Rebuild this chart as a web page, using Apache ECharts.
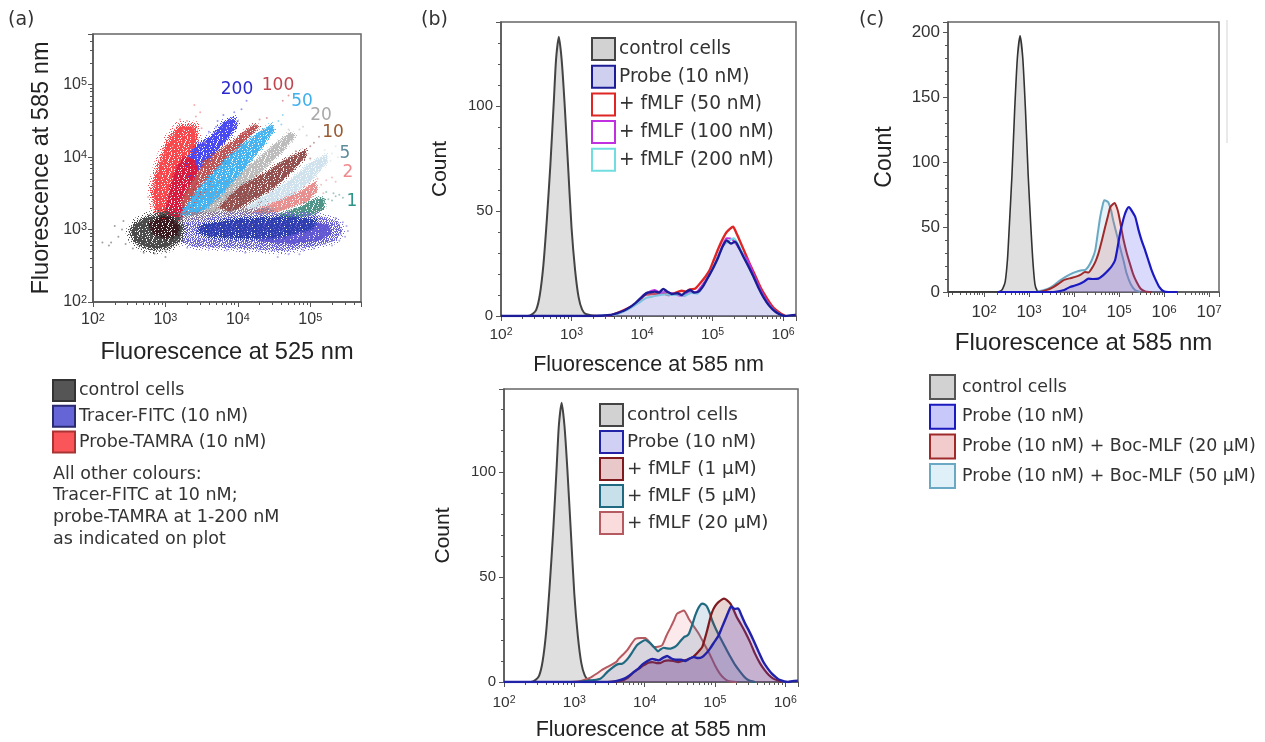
<!DOCTYPE html>
<html><head><meta charset="utf-8">
<style>html,body{margin:0;padding:0;background:#fff}#c{width:1265px;height:742px;filter:blur(.35px)}</style>
<script src="https://cdn.jsdelivr.net/npm/echarts@6/dist/echarts.min.js"></script>
</head><body><div id="c"></div>
<script>
/* ---------- panel (a): cloud outlines, [log10 F525, log10 F585] ---------- */
const cloudTracerOuter=[[3.20,3.05],[3.7,3.14],[4.4,3.17],[5.08,3.17],[5.36,3.08],[5.4,2.98],[5.33,2.88],[5.08,2.81],[4.63,2.74],[3.94,2.78],[3.38,2.8],[3.2,2.88]];
const cloudTracerMid=[[4.3,3.05],[5.0,3.12],[5.25,3.06],[5.3,2.95],[5.15,2.86],[4.75,2.8],[4.3,2.84],[4.1,2.95]];
const cloudTracerCore=[[3.5,3.06],[3.94,3.14],[4.63,3.17],[5.08,3.14],[5.02,3.02],[4.58,2.9],[4.07,2.88],[3.6,2.9],[3.45,2.97]];
const cloudMix=[[3.2,3.22],[3.7,3.23],[4.4,3.28],[4.6,3.19],[4.2,3.1],[3.6,3.08],[3.2,3.05]];
const cloudWedge=[[3.2,3.15],[3.5,3.55],[3.8,3.68],[4.2,3.5],[4.6,3.28],[4.0,3.14],[3.5,3.08]];
const cloudRedOuter=[[2.97,3.14],[2.88,3.23],[2.83,3.56],[2.92,3.9],[3.06,4.25],[3.2,4.42],[3.4,4.42],[3.42,4.2],[3.38,3.97],[3.34,3.6],[3.22,3.19]];
const cloudRedCore=[[3.0,3.14],[3.02,3.3],[3.08,3.6],[3.16,3.85],[3.26,4.0],[3.4,3.95],[3.45,3.75],[3.4,3.55],[3.3,3.25],[3.2,3.12]];
const cloud200=[[3.29,3.93],[3.43,4.14],[3.66,4.3],[3.82,4.48],[3.94,4.53],[3.98,4.44],[3.84,4.25],[3.66,4.02],[3.48,3.84],[3.34,3.69]];
const cloud100=[[3.24,3.42],[3.54,3.92],[3.94,4.22],[4.22,4.44],[4.28,4.42],[4.14,4.28],[3.94,4.04],[3.71,3.79],[3.43,3.42],[3.27,3.2]];
const cloud50=[[3.20,3.19],[3.48,3.58],[3.84,3.97],[4.21,4.27],[4.46,4.44],[4.49,4.37],[4.30,4.11],[4.03,3.79],[3.71,3.44],[3.43,3.2]];
const cloud20=[[3.48,3.23],[3.71,3.48],[4.03,3.77],[4.40,4.07],[4.72,4.33],[4.78,4.3],[4.63,4.11],[4.30,3.79],[3.98,3.44],[3.71,3.25]];
const cloud10=[[3.76,3.32],[4.03,3.58],[4.40,3.79],[4.72,3.99],[4.93,4.09],[4.93,4.02],[4.76,3.83],[4.49,3.58],[4.17,3.4],[3.89,3.23]];
const cloud5=[[4.12,3.3],[4.40,3.48],[4.72,3.67],[4.99,3.9],[5.22,4.02],[5.22,3.93],[4.99,3.67],[4.72,3.44],[4.40,3.26]];
const cloud2=[[4.17,3.23],[4.53,3.37],[4.86,3.51],[5.06,3.65],[5.09,3.55],[4.95,3.39],[4.63,3.28],[4.35,3.21]];
const cloud1=[[4.53,3.19],[4.86,3.30],[5.08,3.42],[5.18,3.42],[5.18,3.30],[5.04,3.21],[4.76,3.14]];
const cloudControlOuter=[[2.6,3.08],[2.75,3.16],[3.0,3.22],[3.15,3.16],[3.23,3.02],[3.2,2.87],[3.05,2.77],[2.85,2.74],[2.67,2.78],[2.57,2.87],[2.53,2.97]];
const cloudControlCore=[[2.78,3.08],[2.95,3.18],[3.08,3.16],[3.18,3.04],[3.16,2.94],[3.0,2.88],[2.84,2.95]];
/* sparse dots */
const dotsRed=[[2.9,3.5],[2.85,3.62],[2.92,3.75],[2.98,3.88],[3.0,4.05],[3.1,4.15],[3.12,4.3],[3.2,4.52],[3.3,4.5],[3.42,4.56],[3.48,4.62],[3.4,4.72],[3.5,4.4],[3.55,4.2],[2.76,3.45],[2.82,3.32],[3.25,4.38],[3.38,4.4],[2.95,3.95]];
const dots200=[[3.7,4.42],[3.8,4.58],[3.95,4.62],[4.05,4.66],[4.0,4.5],[3.6,4.35],[3.72,4.5],[4.12,4.78],[3.85,4.4]];
const dots100=[[4.3,4.52],[4.4,4.54],[4.1,4.34],[4.25,4.44],[4.62,4.78],[4.7,4.85],[4.35,4.38]];
const dots50=[[4.56,4.5],[4.62,4.58],[4.4,4.4],[4.45,4.32],[4.6,4.45],[4.3,4.28]];
const dots20=[[4.85,4.38],[4.9,4.42],[4.7,4.38],[4.75,4.22],[4.6,4.22],[4.45,4.12],[4.95,4.3]];
const dots10=[[5.0,4.15],[5.05,4.2],[5.12,4.28],[5.0,3.98],[4.85,4.0],[4.8,4.08]];
const dots5=[[5.3,4.05],[5.35,4.15],[5.2,4.1],[5.28,3.95],[5.1,3.98],[5.15,3.85],[5.38,4.0]];
const dots2=[[5.15,3.62],[5.22,3.68],[5.3,3.72],[5.1,3.7],[5.18,3.5],[5.0,3.58],[5.35,3.66]];
const dots1=[[5.25,3.42],[5.3,3.4],[5.35,3.46],[5.4,3.48],[5.45,3.44],[5.22,3.52],[5.32,3.5]];
const dotsTracer=[[5.45,3.1],[5.5,3.05],[5.52,2.98],[5.48,2.9],[5.4,2.85],[5.3,2.78],[5.2,2.8],[5.05,2.74],[4.9,2.72],[4.7,2.66],[4.55,2.62],[4.3,2.72],[4.1,2.68],[3.85,2.72],[3.6,2.74],[3.3,2.75],[5.35,3.16],[5.42,2.94],[4.85,2.66],[4.6,2.74]];
const dotsControl=[[2.4,3.0],[2.35,2.9],[2.42,3.12],[2.45,2.8],[2.55,2.74],[2.7,2.68],[2.85,2.67],[3.0,2.62],[2.3,3.05],[2.25,2.82],[2.13,2.82],[2.22,2.78],[3.0,2.7],[3.25,2.85],[3.2,3.12]];
const armLabels=[['200',237,90,'#2a2ad0'],['100',278,86,'#c0454f'],['50',302,102,'#3fb0ee'],['20',321,116,'#a9a9a9'],['10',333,133,'#9a5a30'],['5',345,154,'#5f8c9c'],['2',348,173,'#ee8a90'],['1',352,202,'#2f9488']];
/* ---------- histograms: [log10 fluorescence, count] ---------- */
const controlB=[[2.0,0],[2.38,0],[2.45,1],[2.5,3],[2.55,10],[2.6,24],[2.65,46],[2.7,72],[2.75,103],[2.78,122],[2.82,133],[2.86,122],[2.9,102],[2.95,72],[3.0,42],[3.05,22],[3.1,9],[3.15,3],[3.2,1],[3.35,0],[3.6,0]];
const probeTop=[[2.0,0],[3.3,0],[3.55,.5],[3.65,1.4],[3.74,2.5],[3.82,4],[3.9,6],[3.98,8.5],[4.07,11],[4.12,11.3],[4.18,11.6],[4.24,11.2],[4.30,12.9],[4.36,11.5],[4.42,10.5],[4.5,10.8],[4.56,10],[4.62,11.4],[4.68,12.4],[4.74,11.2],[4.8,11.6],[4.87,14.5],[4.94,18.7],[5.01,23],[5.08,28],[5.14,33],[5.2,36],[5.26,34.5],[5.32,35.4],[5.38,32],[5.44,28],[5.51,23.5],[5.58,18.7],[5.65,13.5],[5.72,9],[5.8,5],[5.89,2],[5.96,.7],[6.03,0],[6.1,.3],[6.18,.5]];
const fmlf50=[[3.3,0],[3.55,.3],[3.76,3],[3.92,6],[3.98,8],[4.04,10],[4.12,10.4],[4.21,10.5],[4.3,10.9],[4.37,10],[4.46,10.8],[4.56,12],[4.62,11.6],[4.68,12.7],[4.75,13],[4.82,15.5],[4.9,18.8],[4.96,22],[5.02,27],[5.08,32],[5.14,36.5],[5.2,40],[5.29,42.5],[5.33,40],[5.37,37],[5.46,30],[5.53,24.5],[5.6,19.5],[5.68,13.5],[5.77,8.4],[5.86,4],[5.96,1.3],[6.03,0]];
const fmlf100=[[3.3,0],[3.6,.6],[3.78,3],[3.92,6.2],[4.02,10],[4.1,11.5],[4.18,12.4],[4.26,11],[4.34,11.6],[4.42,10.8],[4.52,9.8],[4.6,9.6],[4.66,11.5],[4.76,11.2],[4.84,14],[4.94,19],[5.04,25.5],[5.12,32],[5.2,37],[5.28,36.5],[5.36,33],[5.42,30],[5.5,26.5],[5.58,20],[5.68,12.5],[5.78,6.6],[5.88,2.6],[6.0,0]];
const fmlf200=[[3.3,0],[3.62,.7],[3.8,3],[3.95,6.2],[4.06,8.6],[4.14,9.2],[4.22,9.8],[4.32,10.2],[4.42,10],[4.52,10.2],[4.6,9.6],[4.7,11],[4.78,10.6],[4.86,14],[4.96,20],[5.06,27],[5.14,33],[5.22,35.5],[5.3,37],[5.38,33],[5.46,27],[5.56,20],[5.68,11.5],[5.78,6],[5.88,2.4],[6.0,0]];
const probeBot=[[2.0,0],[3.52,0],[3.62,.6],[3.71,1.6],[3.78,3],[3.85,4.8],[3.92,6.6],[3.97,8.4],[4.04,10],[4.11,11],[4.16,10.6],[4.2,10.3],[4.26,11.5],[4.32,12.4],[4.38,11.2],[4.44,10.6],[4.52,10.6],[4.58,10],[4.64,11.2],[4.7,11.9],[4.76,11.4],[4.82,11.9],[4.88,13.8],[4.93,15.9],[4.99,19],[5.05,22],[5.1,26],[5.15,30],[5.2,34],[5.23,36],[5.28,34.8],[5.33,35],[5.38,31.5],[5.43,27.8],[5.49,24],[5.55,19.8],[5.62,14.5],[5.69,9.5],[5.75,6.5],[5.81,4],[5.87,2.2],[5.92,1],[6.04,0],[6.1,.4],[6.18,.6]];
const fmlf1=[[3.47,0],[3.66,.5],[3.76,2],[3.85,4.8],[3.92,6.4],[3.99,8],[4.05,9.2],[4.11,9.5],[4.17,9],[4.22,9],[4.28,10],[4.34,10.3],[4.41,10],[4.48,9.5],[4.56,10.2],[4.63,11],[4.69,12],[4.74,13.5],[4.78,15],[4.82,16.7],[4.86,21],[4.89,24.6],[4.93,30],[4.96,33.3],[5.0,36],[5.05,38],[5.13,39.7],[5.17,39],[5.22,37.3],[5.27,34],[5.31,31],[5.37,27.5],[5.43,23.8],[5.5,19],[5.57,13.5],[5.64,9],[5.71,5.5],[5.77,3.2],[5.83,1.6],[5.95,0]];
const fmlf5=[[3.05,0],[3.19,.5],[3.28,.9],[3.37,1.6],[3.42,3],[3.47,4.8],[3.53,6.5],[3.59,8],[3.64,8.6],[3.68,8.7],[3.73,10],[3.78,12],[3.84,15],[3.89,17.5],[3.95,19],[4.01,20],[4.06,19],[4.11,17.5],[4.15,16],[4.19,14.6],[4.23,15.6],[4.27,16.3],[4.32,16],[4.37,15.9],[4.42,16.5],[4.46,17.5],[4.51,19.5],[4.56,21.4],[4.6,22],[4.63,23],[4.68,27.5],[4.72,31.7],[4.77,35.5],[4.82,37.3],[4.86,36.8],[4.89,35.7],[4.93,32.5],[4.96,29.4],[5.01,25.5],[5.07,21.4],[5.14,17],[5.22,12],[5.29,8],[5.36,4.8],[5.42,2.4],[5.48,.8],[5.57,0]];
const fmlf20=[[2.95,0],[3.09,.5],[3.16,1.2],[3.23,2.1],[3.31,3.8],[3.40,5.9],[3.47,7.2],[3.54,8.4],[3.6,9.6],[3.63,11],[3.69,13],[3.75,15],[3.81,18],[3.87,20.6],[3.94,21],[4.01,21],[4.07,19],[4.13,16.7],[4.19,16.8],[4.25,17.5],[4.31,22],[4.37,26],[4.42,29.5],[4.46,32.5],[4.51,33.4],[4.56,34],[4.6,32],[4.63,30],[4.7,26.5],[4.77,23],[4.85,18],[4.93,13],[5.0,8],[5.07,4],[5.13,1.8],[5.19,.5],[5.31,0]];
const controlC=[[1.2,0],[2.3,0],[2.38,1],[2.42,3],[2.47,8],[2.52,25],[2.56,50],[2.62,90],[2.68,140],[2.74,180],[2.8,197],[2.86,180],[2.92,140],[2.98,90],[3.04,50],[3.08,26],[3.13,6],[3.18,1],[3.25,0]];
const probeC=[[2.3,0],[3.54,0],[3.66,.5],[3.76,1.3],[3.84,2.6],[3.91,3.8],[4.02,5],[4.13,6.4],[4.22,8],[4.32,10.3],[4.42,10],[4.54,10.3],[4.65,13],[4.76,16.7],[4.84,20],[4.91,24.4],[4.96,33],[5.02,45],[5.08,54],[5.13,60],[5.18,64],[5.22,65.4],[5.29,62],[5.36,57.7],[5.43,48],[5.5,39.7],[5.57,33],[5.65,24.4],[5.72,17],[5.8,10.3],[5.9,3.5],[5.99,.5],[6.1,0],[6.3,0]];
const boc20=[[3.24,0],[3.4,1.6],[3.54,3.8],[3.65,6.2],[3.76,9],[3.9,10.5],[4.06,12],[4.16,13.6],[4.24,15.4],[4.32,15],[4.39,18],[4.47,23],[4.54,29.5],[4.62,40],[4.69,50],[4.75,58],[4.8,65],[4.86,67.5],[4.9,68.5],[4.95,65],[4.99,60],[5.05,49],[5.1,40],[5.17,30],[5.24,21.8],[5.31,14],[5.39,7.7],[5.48,2.5],[5.58,.5],[5.73,0]];
const boc50=[[3.17,0],[3.32,1.3],[3.47,3.3],[3.58,6],[3.69,9],[3.8,11.5],[3.91,13.6],[4.04,15.5],[4.17,16.7],[4.25,17],[4.32,19.7],[4.4,25],[4.47,32],[4.53,46],[4.58,57.7],[4.63,66],[4.67,70.5],[4.72,70],[4.76,69],[4.82,63],[4.87,55],[4.95,44],[5.02,34.6],[5.1,24],[5.17,14],[5.26,6],[5.36,1.3],[5.47,0]];
/* ---------- text ---------- */
const legendA=[['control cells','#555','#333'],['Tracer-FITC (10 nM)','#6565d8','#2a2a70'],['Probe-TAMRA (10 nM)','#fa5558','#a33']];
const legendB1=[['control cells','#d2d2d2','#444'],['Probe (10 nM)','#cfcff0','#1c1c96'],['+ fMLF (50 nM)','#fff','#e02525'],['+ fMLF (100 nM)','#fff','#c030e0'],['+ fMLF (200 nM)','#fff','#70dde0']];
const legendB2=[['control cells','#d2d2d2','#444'],['Probe (10 nM)','#d0d0f4','#2222a8'],['+ fMLF (1 µM)','#e8c8c8','#7f1a1f'],['+ fMLF (5 µM)','#c8e0ea','#1f6a80'],['+ fMLF (20 µM)','#fadcdc','#b55a60']];
const legendC=[['control cells','#d2d2d2','#555'],['Probe (10 nM)','#c8c8fa','#1a1ac0'],['Probe (10 nM) + Boc-MLF (20 µM)','#f2cccc','#a02a2a'],['Probe (10 nM) + Boc-MLF (50 µM)','#dff0f8','#6aa8c4']];
const noteLines=['All other colours:','Tracer-FITC at 10 nM;','probe-TAMRA at 1-200 nM','as indicated on plot'];
/* speckle stencils for the dense flow-cytometry clouds */
const stencilDense=["##.#####.###.###","#######.########","###.####.###.###","#.########.#####","######.#########","##.####.###.##.#","##########.#####","####.##.#.######","#.#########.####","#####.#####.##.#","##.#.######.####","#########.####.#","###.#.####.#####","#.#######.###.##","#####.###.######","##.#####.#####.#"];
const stencilMedium=["#.##.#.##..#.##.",".##..###.#.##.#.","##.#.#..##.#..##",".#.##.##..##.#.#","#..#.##.#.#..##.",".##.#..###.#.#.#","#.#.##.#..##.#..","##..#.#.##.#..##",".#.##..#.#..##.#","#.#..##.#.##.#..",".##.#.#..##.#.##","#..##.#.#.#..#.#",".#.#..##.#.##.#.","##.#.##..#.#.#.#","#.#.#..##.#.#.#.",".#.##.#.#..##.#."];
const stencilSparse=["#.....#.....#...","...#......#.....",".#.....#......#.",".....#.....#....","..#......#....#.","#.....#.....#...","...#.......#....",".....#..#.....#.",".#........#.....","....#..#.....#..","#........#......","..#..#......#..#","......#..#......",".#.......#...#..","....#.#.....#...","#.........#....."];

const pairs=rows=>rows.map(r=>[Math.pow(10,r[0]),Math.pow(10,r[1])]);
const xPairs=rows=>rows.map(r=>[Math.pow(10,r[0]),r[1]]);
const tickFmt=v=>{const e=Math.log10(v);return Math.abs(e-Math.round(e))<1e-6?'10{s|'+Math.round(e)+'}':'';};
const GREY='#555',SANS='Liberation Sans',VER='DejaVu Sans';
function speckle(color,rows){const c=document.createElement('canvas');c.width=c.height=16;const g=c.getContext('2d');g.fillStyle=color;
  rows.forEach((r,y)=>[...r].forEach((ch,x)=>{if(ch==='#')g.fillRect(x,y,1,1);}));return {image:c,repeat:'repeat'};}
function logAxis(i,min,max,name,fs,gap,nfs,margin){return {type:'log',logBase:10,gridIndex:i,min,max,name,nameLocation:'middle',nameGap:gap,
  nameTextStyle:{fontFamily:SANS,fontSize:nfs,color:'#222'},axisLine:{lineStyle:{color:GREY,width:1.5}},axisTick:{length:5,lineStyle:{color:GREY}},
  minorTick:{show:true,splitNumber:9,length:3,lineStyle:{color:GREY}},splitLine:{show:false},minorSplitLine:{show:false},
  axisLabel:{formatter:tickFmt,fontFamily:SANS,fontSize:fs,color:'#333',margin:margin,showMinLabel:true,showMaxLabel:true,rich:{s:{fontSize:fs*.68,verticalAlign:'top',lineHeight:fs*.7,fontFamily:SANS,color:'#333'}}}};}
function valAxis(i,min,max,step,name,fs,gap,nfs){return {type:'value',gridIndex:i,min,max,interval:step,name,nameLocation:'middle',nameGap:gap,
  nameTextStyle:{fontFamily:SANS,fontSize:nfs,color:'#222'},axisLine:{lineStyle:{color:GREY,width:1.5}},axisTick:{length:5,lineStyle:{color:GREY}},
  minorTick:{show:true,splitNumber:5,length:3,lineStyle:{color:GREY}},splitLine:{show:false},
  axisLabel:{fontFamily:SANS,fontSize:fs,color:'#333',margin:8,showMaxLabel:false}};}
const grid=(l,r,t,b)=>({left:l,top:t,width:r-l,height:b-t,show:true,borderColor:'#666',borderWidth:1.5,backgroundColor:'#fff'});
function hist(name,rows,i,color,fill,lw,z){return {type:'line',name,xAxisIndex:i,yAxisIndex:i,data:xPairs(rows),showSymbol:false,smooth:.2,z,
  lineStyle:{color,width:lw||2},areaStyle:fill?{color:fill,origin:'start'}:undefined,itemStyle:{color},silent:true};}
function blob(name,rows,color,z,stencil,fringe){return {type:'custom',name,xAxisIndex:0,yAxisIndex:0,coordinateSystem:'cartesian2d',z,silent:true,data:pairs(rows),
  renderItem:(p,api)=>{ if(p.dataIndex!==0) return null;
    const pts=pairs(rows).map(v=>api.coord(v));
    const kids=[];
    if(fringe){kids.push({type:'polygon',shape:{points:pts},style:{fill:'none',stroke:speckle(color,stencilSparse),lineWidth:fringe,lineJoin:'round'}});
      kids.push({type:'polygon',shape:{points:pts},style:{fill:'none',stroke:speckle(color,stencilMedium),lineWidth:fringe*.45,lineJoin:'round'}});}
    kids.push({type:'polygon',shape:{points:pts},style:{fill:speckle(color,stencil||stencilDense)}});
    return {type:'group',children:kids};}};}
function dots(name,rows,color,z){return {type:'scatter',name,xAxisIndex:0,yAxisIndex:0,data:pairs(rows),symbolSize:2,z,silent:true,itemStyle:{color,opacity:.7}};}

const series=[
 blob('Tracer-FITC (10 nM)',cloudTracerOuter,'#6f68d8',3,stencilMedium,12),
 blob('mix',cloudMix,'#8f7f98',2.9,stencilMedium,6),
 blob('wedge',cloudWedge,'#a89090',1.5,stencilMedium,6),
 blob('Tracer-FITC (10 nM) mid',cloudTracerMid,'#6258d4',3.1,stencilDense,6),
 blob('Tracer-FITC (10 nM) core',cloudTracerCore,'#2f3fb0',3.2,stencilDense,6),
 blob('Probe-TAMRA (10 nM)',cloudRedOuter,'#f7484e',2,stencilDense,12),
 blob('Probe-TAMRA core',cloudRedCore,'#d81c40',2.5,stencilDense,5),
 blob('200 nM',cloud200,'#4a4af2',2.3,stencilDense,8),
 blob('100 nM',cloud100,'#c05558',2.6,stencilDense,6),
 blob('50 nM',cloud50,'#45b4f0',2.7,stencilDense,6),
 blob('20 nM',cloud20,'#bcbcbc',2.65,stencilDense,6),
 blob('10 nM',cloud10,'#95514f',2.8,stencilDense,6),
 blob('5 nM',cloud5,'#cfe2ee',2.7,stencilDense,6),
 blob('2 nM',cloud2,'#e89090',2.75,stencilDense,6),
 blob('1 nM',cloud1,'#4f9488',2.8,stencilDense,6),
 blob('control cells',cloudControlOuter,'#4c4c4c',4,stencilDense,12),
 blob('control cells core',cloudControlCore,'#3a1a20',4.2,stencilDense,6),
 dots('red dots',dotsRed,'#f58a8c',5),dots('200 dots',dots200,'#6a6af0',5),dots('100 dots',dots100,'#cf7a7c',5),dots('50 dots',dots50,'#6fc4f2',5),
 dots('20 dots',dots20,'#c8c8c8',5),dots('10 dots',dots10,'#ad7a78',5),dots('5 dots',dots5,'#d8e8f0',5),dots('2 dots',dots2,'#eea8a8',5),dots('1 dots',dots1,'#7ab0a8',5),
 dots('tracer dots',dotsTracer,'#8f88e2',5),dots('control dots',dotsControl,'#777',5),

 hist('control cells',controlB,1,'#444','#d2d2d2',2,3),
 hist('+ fMLF (50 nM)',fmlf50,1,'#e02525',null,2.4,4),
 hist('+ fMLF (100 nM)',fmlf100,1,'#c030e0',null,2,5),
 hist('+ fMLF (200 nM)',fmlf200,1,'#70dde0',null,2,6),
 hist('Probe (10 nM)',probeTop,1,'#1c1c96','rgba(150,150,225,.5)',2.4,7),

 hist('control cells',controlB,2,'#444','#d2d2d2',2,3),
 hist('+ fMLF (20 µM)',fmlf20,2,'#b55a60','rgba(230,100,110,.2)',2,4),
 hist('+ fMLF (5 µM)',fmlf5,2,'#1f6a80','rgba(70,130,170,.27)',2.2,5),
 hist('+ fMLF (1 µM)',fmlf1,2,'#7f1a1f','rgba(150,50,50,.3)',2.2,6),
 hist('Probe (10 nM)',probeBot,2,'#2222a8','rgba(90,70,200,.35)',2.4,7),

 hist('control cells',controlC,3,'#333','#d2d2d2',1.6,3),
 hist('Probe (10 nM) + Boc-MLF (50 µM)',boc50,3,'#6aa8c4','rgba(190,225,240,.55)',2,4),
 hist('Probe (10 nM) + Boc-MLF (20 µM)',boc20,3,'#a02a2a','rgba(210,100,100,.3)',2,5),
 hist('Probe (10 nM)',probeC,3,'#1a1ac0','rgba(90,90,240,.32)',2.2,6)
];

const graphic=[];
const txt=(s,x,y,size,color,fam,align)=>graphic.push({type:'text',x,y,silent:true,style:{text:s,fontFamily:fam||VER,fontSize:size,fill:color||'#333',align:align||'left',verticalAlign:'middle'}});
[['(a)',8,20],['(b)',421,20],['(c)',859,20]].forEach(a=>txt(a[0],a[1],a[2],19,'#333'));
armLabels.forEach(a=>txt(a[0],a[1],a[2],17,a[3],VER,'center'));
noteLines.forEach((s,i)=>txt(s,53,474+i*21.7,17.5));
function box(list,x,y,w,h,step,tx,fs){list.forEach((e,i)=>{
  graphic.push({type:'rect',silent:true,shape:{x:x+1,y:y+i*step+1,width:w-2,height:h-2},style:{fill:e[1],stroke:e[2],lineWidth:2}});
  txt(e[0],tx,y+i*step+h/2,fs);});}
box(legendA,52,379,24,23,25.8,79,17.5);
box(legendB1,591,37,25,24,27.7,619,18.6);
box(legendB2,599,403,25,24,27,627,18.4);
box(legendC,929,374,27,26,29.7,962,17.4);
graphic.push({type:'line',silent:true,shape:{x1:1227,y1:20,x2:1227,y2:143},style:{stroke:'#e2e2e2',lineWidth:1.5}});

const option={animation:false,backgroundColor:'#fff',
 grid:[grid(93,361,34,302),grid(501,796,22,316),grid(504,798,389,682),grid(948,1219,22,292)],
 xAxis:[logAxis(0,100,501187,'Fluorescence at 525 nm',16,38,23.6,10),logAxis(1,100,1520000,'Fluorescence at 585 nm',15.5,38,21.5,11),logAxis(2,100,1520000,'Fluorescence at 585 nm',15.5,37,21.5,13),logAxis(3,15.8,16600000,'Fluorescence at 585 nm',17,39,24,12)],
 yAxis:[logAxis(0,100,501187,'Fluorescence at 585 nm',16,40,23.6,6),valAxis(1,0,140,50,'Count',15,50,21),valAxis(2,0,139.5,50,'Count',15,50,21),valAxis(3,0,207.7,50,'Count',17,52,23)],
 series,graphic};
echarts.init(document.getElementById('c'),null,{renderer:'canvas'}).setOption(option);
</script></body></html>
